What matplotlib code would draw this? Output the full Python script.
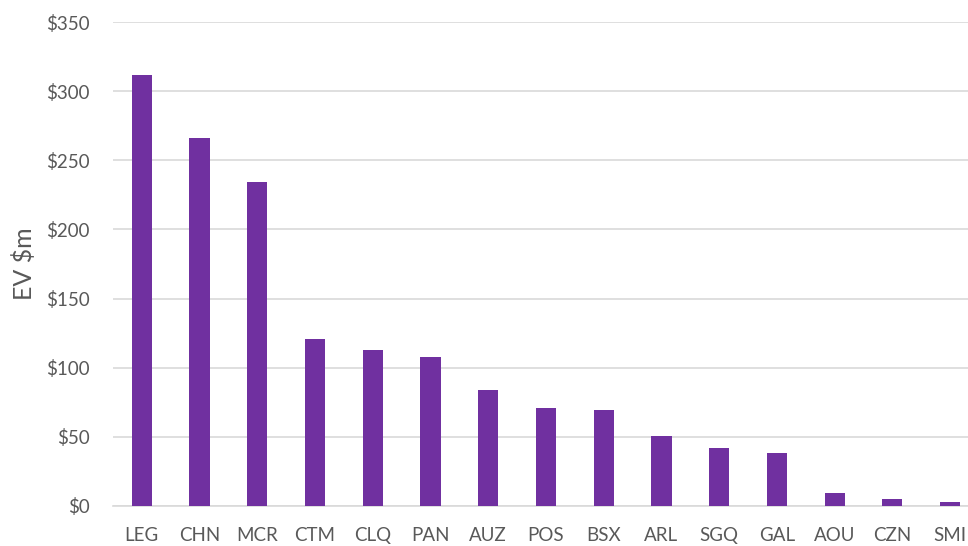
import matplotlib.pyplot as plt
from matplotlib.ticker import FuncFormatter

plt.rcParams['font.family'] = ['Lato', 'DejaVu Sans']

tickers = ['LEG', 'CHN', 'MCR', 'CTM', 'CLQ', 'PAN', 'AUZ', 'POS',
           'BSX', 'ARL', 'SGQ', 'GAL', 'AOU', 'CZN', 'SMI']
ev = [312, 266, 234, 121, 113, 108, 84, 71, 69.5, 50.5, 42, 38.5, 9.5, 5, 3]

text_col = '#595959'

fig = plt.figure(figsize=(9.68, 5.46), dpi=100)
# axes runs past the right edge, the original picture is cropped there
ax = fig.add_axes([0.1167, 0.0733, 0.8946, 0.8864])

x = range(len(tickers))
ax.bar(x, ev, width=0.35, color='#7030A0', zorder=3)

ax.set_xlim(-0.5, len(tickers) - 0.5)
ax.set_ylim(0, 350)
ax.set_yticks(range(0, 351, 50))
ax.yaxis.set_major_formatter(FuncFormatter(lambda v, p: '${:.0f}'.format(v)))
ax.set_xticks(list(x))
ax.set_xticklabels(tickers)

ax.grid(axis='y', color='#d9d9d9', lw=1.2, zorder=0)
for s in ['top', 'right', 'left']:
    ax.spines[s].set_visible(False)
ax.spines['bottom'].set_color('#d9d9d9')
ax.spines['bottom'].set_linewidth(1.2)

ax.tick_params(axis='both', length=0, labelsize=13.5, colors=text_col)
ax.tick_params(axis='x', pad=15)
ax.tick_params(axis='y', pad=17)
ax.set_ylabel('EV $m', fontsize=18, color=text_col, labelpad=7)

fig.savefig('out.png', dpi=100)
